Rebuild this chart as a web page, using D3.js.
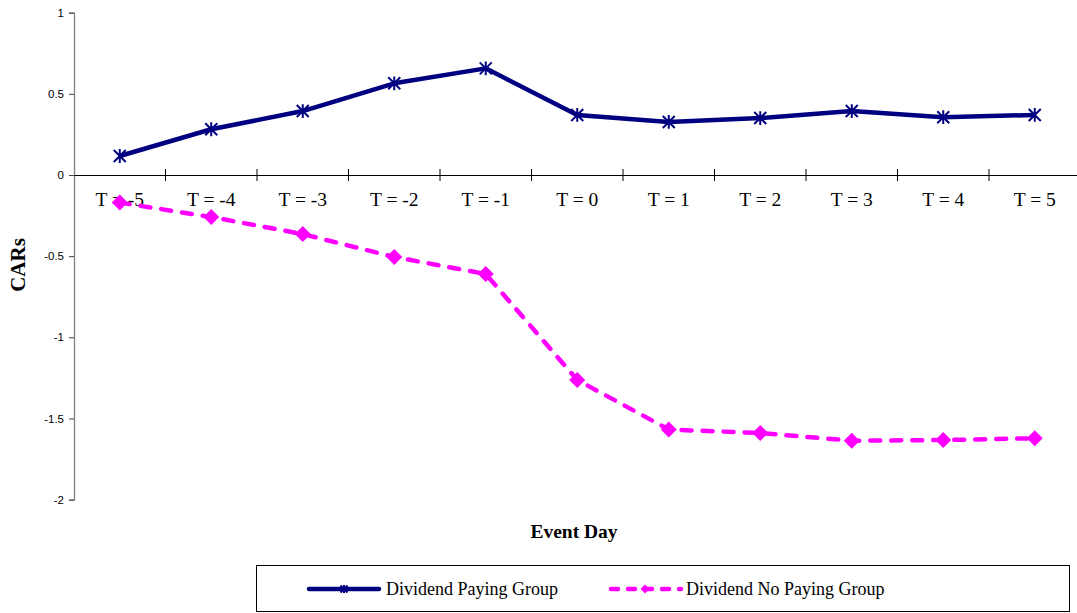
<!DOCTYPE html>
<html>
<head>
<meta charset="utf-8">
<script src="https://cdn.jsdelivr.net/npm/d3@7"></script>
<style>
html,body{margin:0;padding:0;background:#fff;}
svg{display:block;}
</style>
</head>
<body>
<svg id="chart" width="1077" height="613"></svg>
<script>
const categories = ["T = -5","T = -4","T = -3","T = -2","T = -1","T = 0","T = 1","T = 2","T = 3","T = 4","T = 5"];
const payingValues = [0.117,0.282,0.394,0.565,0.657,0.370,0.327,0.351,0.394,0.356,0.370];
const noPayingValues = [-0.170,-0.259,-0.364,-0.505,-0.610,-1.263,-1.568,-1.590,-1.637,-1.633,-1.622];
const yTicks = [-2,-1.5,-1,-0.5,0,0.5,1];
const yTickLabels = ["-2","-1.5","-1","-0.5","0","0.5","1"];
const seriesNames = ["Dividend Paying Group","Dividend No Paying Group"];
const xTitle = "Event Day";
const yTitle = "CARs";

const navy = "#000080", magenta = "#FF00FF";
const svg = d3.select("#chart");

const x = d3.scaleBand().domain(categories).range([74, 1080.5]).padding(0);
const y = d3.scaleLinear().domain([-2, 1]).range([499.6, 12.7]);
const cx = d => x(d) + x.bandwidth() / 2;

// Y axis
const yAxis = svg.append("g").attr("transform", "translate(74,0)")
  .call(d3.axisLeft(y).tickValues(yTicks).tickSize(5).tickPadding(5)
    .tickFormat((d, i) => yTickLabels[i]));
yAxis.select(".domain").attr("stroke", "#808080").attr("stroke-width", 1.3);
yAxis.selectAll(".tick line").attr("stroke", "#404040");
yAxis.selectAll(".tick text").attr("font-family", "'Liberation Sans', Arial, sans-serif")
  .attr("font-size", "11.5px").attr("fill", "#000");

// X axis at zero
const y0 = y(0);
const xAxis = svg.append("g").attr("transform", `translate(0,${y0})`)
  .call(d3.axisBottom(x).tickSize(0).tickPadding(17));
xAxis.select(".domain").attr("stroke", "#000").attr("stroke-width", 1.2);
xAxis.selectAll(".tick text").attr("font-family", "'Liberation Serif', 'Times New Roman', serif")
  .attr("font-size", "19.5px").attr("fill", "#000");
// boundary tick marks
xAxis.selectAll(".btick").data(categories).enter().append("line")
  .attr("x1", d => x(d) + x.bandwidth()).attr("x2", d => x(d) + x.bandwidth())
  .attr("y1", -6).attr("y2", 6).attr("stroke", "#000").attr("stroke-width", 1);

// Lines
const linePay = d3.line().x((d, i) => cx(categories[i])).y(d => y(d));
svg.append("path").datum(payingValues).attr("d", linePay)
  .attr("fill", "none").attr("stroke", navy).attr("stroke-width", 4.5)
  .attr("stroke-linejoin", "round");
svg.append("path").datum(noPayingValues).attr("d", linePay)
  .attr("fill", "none").attr("stroke", magenta).attr("stroke-width", 4.5)
  .attr("stroke-dasharray", "10,11").attr("stroke-linecap", "round");

function asterisk(sel, px, py, r) {
  const p = d3.path();
  p.moveTo(px - r, py - r); p.lineTo(px + r, py + r);
  p.moveTo(px - r, py + r); p.lineTo(px + r, py - r);
  p.moveTo(px, py - r * 1.15); p.lineTo(px, py + r * 1.15);
  sel.append("path").attr("d", p.toString()).attr("stroke", navy).attr("stroke-width", 2).attr("fill", "none");
}
function diamond(sel, px, py, r) {
  const p = d3.path();
  p.moveTo(px, py - r); p.lineTo(px + r, py); p.lineTo(px, py + r); p.lineTo(px - r, py); p.closePath();
  sel.append("path").attr("d", p.toString()).attr("fill", magenta);
}
const mk = svg.append("g");
payingValues.forEach((v, i) => asterisk(mk, cx(categories[i]), y(v), 6));
noPayingValues.forEach((v, i) => diamond(mk, cx(categories[i]), y(v), 8));

// Axis titles
svg.append("text").attr("x", 574).attr("y", 538).attr("text-anchor", "middle")
  .attr("font-family", "'Liberation Serif', 'Times New Roman', serif").attr("font-weight", "bold")
  .attr("font-size", "19.5px").text(xTitle);
svg.append("text").attr("transform", "translate(25,265) rotate(-90)").attr("text-anchor", "middle")
  .attr("font-family", "'Liberation Serif', 'Times New Roman', serif").attr("font-weight", "bold")
  .attr("font-size", "21px").text(yTitle);

// Legend
const lg = svg.append("g");
lg.append("rect").attr("x", 256.5).attr("y", 565.5).attr("width", 813).attr("height", 46)
  .attr("fill", "#fff").attr("stroke", "#000").attr("stroke-width", 1);
const ly = 589;
lg.append("line").attr("x1", 309).attr("x2", 379).attr("y1", ly).attr("y2", ly)
  .attr("stroke", navy).attr("stroke-width", 4.5).attr("stroke-linecap", "round");
asterisk(lg, 344, ly, 3.5);
lg.append("text").attr("x", 386).attr("y", ly + 6).attr("font-family", "'Liberation Serif', 'Times New Roman', serif")
  .attr("font-size", "18px").text(seriesNames[0]);
lg.append("line").attr("x1", 611).attr("x2", 681).attr("y1", ly).attr("y2", ly)
  .attr("stroke", magenta).attr("stroke-width", 4.5).attr("stroke-dasharray", "7,10").attr("stroke-linecap", "round");
diamond(lg, 645, ly, 4.5);
lg.append("text").attr("x", 686).attr("y", ly + 6).attr("font-family", "'Liberation Serif', 'Times New Roman', serif")
  .attr("font-size", "18px").text(seriesNames[1]);
</script>
</body>
</html>
